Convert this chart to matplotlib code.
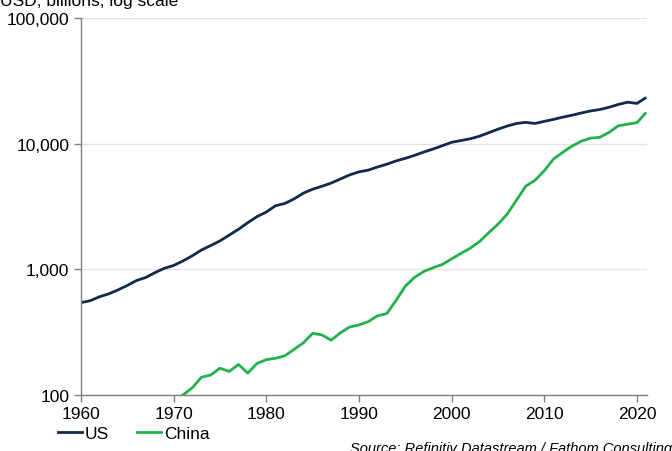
import matplotlib.pyplot as plt
from matplotlib.ticker import FixedLocator, FuncFormatter, NullLocator
from matplotlib.lines import Line2D

plt.rcParams['font.family'] = ['Liberation Sans', 'DejaVu Sans']

# Nominal GDP, USD billions
us_years = list(range(1960, 2022))
us_gdp = [543, 563, 605, 638, 686, 744, 815, 862, 943, 1019,
          1073, 1165, 1280, 1425, 1545, 1684, 1873, 2082, 2352, 2627,
          2857, 3207, 3343, 3634, 4037, 4339, 4580, 4855, 5236, 5642,
          5963, 6158, 6520, 6859, 7287, 7640, 8073, 8578, 9063, 9631,
          10252, 10582, 10936, 11458, 12214, 13037, 13815, 14475, 14770, 14478,
          15049, 15600, 16254, 16843, 17551, 18206, 18695, 19480, 20527, 21373,
          20894, 23315]

china_years = list(range(1970, 2022))
china_gdp = [92.6, 99.8, 114, 138.5, 144.2, 163.4, 153.9, 174.9, 149.5, 178.3,
             191.1, 195.9, 205.1, 230.7, 259.9, 309.5, 300.8, 272.9, 312.4, 347.8,
             360.9, 383.4, 426.9, 444.7, 564.3, 734.5, 863.7, 961.6, 1029, 1094,
             1211, 1339, 1471, 1660, 1955, 2286, 2752, 3550, 4594, 5102,
             6087, 7552, 8532, 9570, 10476, 11062, 11233, 12310, 13895, 14280,
             14688, 17734]

x_ticks = [1960, 1970, 1980, 1990, 2000, 2010, 2020]
y_ticks = [100, 1000, 10000, 100000]

navy = '#11294a'
green = '#22b24c'

fig = plt.figure(figsize=(6.72, 4.52), dpi=100)
ax = fig.add_axes([0.1205, 0.1239, 0.8425, 0.8341])

ax.plot(us_years, us_gdp, color=navy, lw=2.0, solid_capstyle='butt')
ax.plot(china_years, china_gdp, color=green, lw=2.0, solid_capstyle='butt')

ax.set_yscale('log')
ax.set_ylim(100, 100000)
ax.set_xlim(1960, 2021.1)

ax.yaxis.set_major_locator(FixedLocator(y_ticks))
ax.yaxis.set_minor_locator(NullLocator())
ax.yaxis.set_major_formatter(FuncFormatter(lambda v, p: f'{int(v):,}'))
ax.set_xticks(x_ticks)

ax.grid(axis='y', color='#e3e3e3', lw=1)
ax.set_axisbelow(True)
for s in ['top', 'right']:
    ax.spines[s].set_visible(False)
for s in ['left', 'bottom']:
    ax.spines[s].set_color('#7f7f7f')
    ax.spines[s].set_linewidth(1)
ax.tick_params(axis='both', colors='#7f7f7f', length=5, width=1,
               labelcolor='black', labelsize=12.5)
ax.tick_params(axis='x', pad=3)

fig.text(0.0, 1 - 6 / 452, 'USD, billions, log scale', fontsize=12.5,
         ha='left', va='baseline')

handles = [Line2D([], [], color=navy, lw=2.0), Line2D([], [], color=green, lw=2.0)]
fig.legend(handles, ['US', 'China'], loc='center left',
           bbox_to_anchor=(58 / 672, 1 - 434 / 452), ncol=2, frameon=False,
           fontsize=12.5, handlelength=1.4, handletextpad=0.15,
           columnspacing=1.6, borderaxespad=0, borderpad=0)

fig.text(1.0, 1 - 449 / 452, 'Source: Refinitiv Datastream / Fathom Consulting',
         fontsize=10.5, style='italic', ha='right', va='center')

fig.savefig('out.png', dpi=100)
